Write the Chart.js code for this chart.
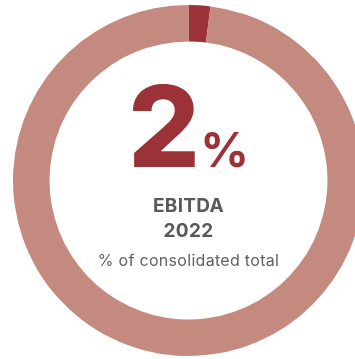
<!DOCTYPE html>
<html>
<head>
<meta charset="utf-8">
<script src="https://cdn.jsdelivr.net/npm/chart.js@4/dist/chart.umd.min.js"></script>
<style>
  html, body { margin: 0; padding: 0; background: #fff; overflow: hidden; width: 355px; height: 359px; }
  #wrap { position: absolute; left: 0; top: 0; width: 377px; height: 361px; }
  .t { position: absolute; left: 0; width: 377px; text-align: center; font-family: Inter, "Open Sans", sans-serif; white-space: nowrap; }
  #big { top: 70px; font-size: 113px; line-height: 113px; font-weight: 800; color: #9a3237; letter-spacing: -3px; }
  #big span { font-size: 48px; font-weight: 700; margin-left: 3px; letter-spacing: 0; }
  #l1 { top: 196px; font-size: 19px; line-height: 19px; font-weight: 700; color: #58595b; letter-spacing: 0.3px; }
  #l2 { top: 221px; font-size: 19px; line-height: 19px; font-weight: 700; color: #58595b; letter-spacing: 0.3px; }
  #l3 { top: 252px; font-size: 16px; line-height: 16px; font-weight: 400; color: #606163; letter-spacing: 0.3px; }
</style>
</head>
<body>
<div id="wrap"><canvas id="c"></canvas></div>
<div class="t" id="big">2<span>%</span></div>
<div class="t" id="l1">EBITDA</div>
<div class="t" id="l2">2022</div>
<div class="t" id="l3">% of consolidated total</div>
<script>
const categories = ["EBITDA 2022", "Rest of consolidated total"];
const values = [2, 98];
const colors = ["#9a3237", "#c4897f"];

new Chart(document.getElementById("c"), {
  type: "doughnut",
  data: {
    labels: categories,
    datasets: [{ data: values, backgroundColor: colors, borderWidth: 0, hoverOffset: 0 }]
  },
  options: {
    responsive: true,
    maintainAspectRatio: false,
    animation: false,
    cutout: "79.2%",
    layout: { padding: 5 },
    plugins: { legend: { display: false }, tooltip: { enabled: false } }
  }
});
</script>
</body>
</html>
